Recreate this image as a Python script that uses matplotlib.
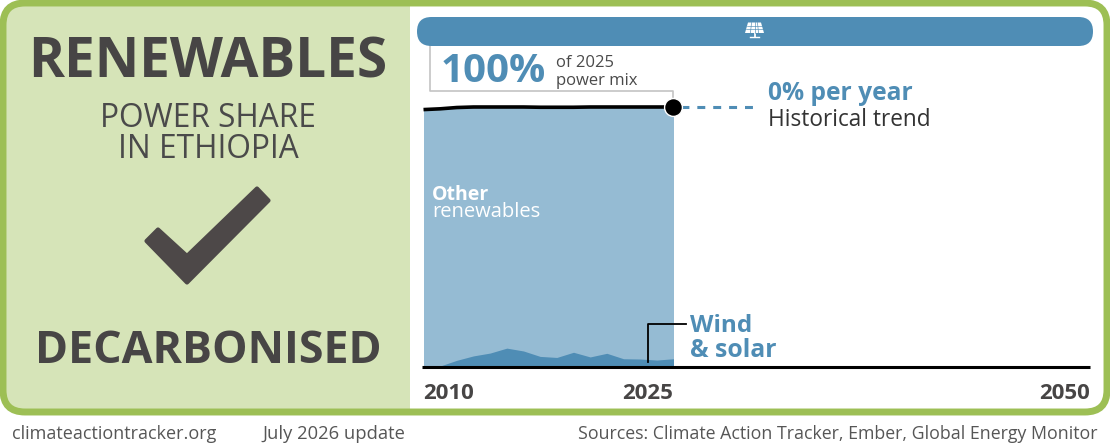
import matplotlib
matplotlib.use('Agg')
import matplotlib.pyplot as plt
from matplotlib.patches import FancyBboxPatch, Polygon, Rectangle

W, H = 1110, 444

# share of the power mix, percent
years = [2010, 2011, 2012, 2013, 2014, 2015, 2016, 2017, 2018, 2019, 2020, 2021, 2022, 2023, 2024, 2025]
total_share = [99.0, 99.3, 99.8, 100, 100, 100, 100, 99.9, 99.9, 99.9, 100, 100, 100, 100, 100, 100]
wind_solar = [0, 0, 2.2, 3.9, 5.0, 6.9, 5.8, 3.7, 3.3, 5.3, 3.5, 4.9, 2.8, 2.7, 2.3, 2.8]
trend_years = [2025, 2030]
trend_share = [100, 100]
year_ticks = [2010, 2025, 2050]

BLUE = '#4f8db5'
LIGHT_BLUE = '#95bbd3'
GREEN = '#9dbf55'
PALE = '#d6e4b8'
DARK = '#474545'
GREY_TXT = '#4a4a4a'
FOOT_TXT = '#565656'

plt.rcParams['font.family'] = ['Open Sans', 'DejaVu Sans']

fig = plt.figure(figsize=(W / 100, H / 100), dpi=100)
bg = fig.add_axes([0, 0, 1, 1])
bg.set_xlim(0, W)
bg.set_ylim(H, 0)
bg.axis('off')

# frame and left panel
frame = dict(boxstyle='round,pad=0,rounding_size=22')
bg.add_patch(FancyBboxPatch((3, 3), W - 6, 409, fc='white', ec='none', zorder=1, **frame))
clip = FancyBboxPatch((3, 3), W - 6, 409, fc='none', ec='none', **frame)
bg.add_patch(clip)
panel = Rectangle((0, 0), 410, 420, fc=PALE, ec='none', zorder=2)
bg.add_patch(panel)
panel.set_clip_path(clip)
bg.add_patch(FancyBboxPatch((3, 3), W - 6, 409, fc='none', ec=GREEN, lw=5, zorder=3, **frame))

bg.text(208, 63, 'RENEWABLES', ha='center', va='center', fontsize=39.5, fontweight='bold', color=DARK, zorder=5)
bg.text(208, 118, 'POWER SHARE', ha='center', va='center', fontsize=22.8, color=GREY_TXT, zorder=5)
bg.text(208, 149, 'IN ETHIOPIA', ha='center', va='center', fontsize=22.8, color=GREY_TXT, zorder=5)
bg.text(208, 351, 'DECARBONISED', ha='center', va='center', fontsize=32.2, fontweight='bold', color=DARK, zorder=5)

# check mark
bg.add_patch(Polygon([[257, 188.5], [268.5, 200.5], [187, 282.5], [146.5, 241], [158, 229.5], [187, 256]],
                     closed=True, fc='#4d4848', ec='#4d4848', lw=3, joinstyle='round', zorder=5))

# footer
bg.text(12, 434, 'climateactiontracker.org', ha='left', va='center', fontsize=13, color=FOOT_TXT)
bg.text(262, 434, 'July 2026 update', ha='left', va='center', fontsize=13.2, color=FOOT_TXT)
bg.text(1098, 434, 'Sources: Climate Action Tracker, Ember, Global Energy Monitor', ha='right', va='center',
        fontsize=12.75, color=FOOT_TXT)

# chart axes: 0 at y=366, 100 at y=107, 2010 at x=423.5, 2025 at x=673.5
x0, x25 = 423.5, 673.5
xmax = x25 + 25 * (x25 - x0) / 15
ax = fig.add_axes([x0 / W, 1 - 366 / H, (xmax - x0) / W, (366 - 107) / H])
ax.set_xlim(2010, 2050)
ax.set_ylim(0, 100)
ax.axis('off')
ax.patch.set_alpha(0)
ax.fill_between(years, 0, total_share, color=LIGHT_BLUE, lw=0, zorder=2)
ax.fill_between(years, 0, wind_solar, color=BLUE, lw=0, zorder=3)
ax.plot(years, total_share, color='black', lw=2.6, clip_on=False, zorder=5, solid_capstyle='butt')
ax.plot(trend_years, trend_share, color=BLUE, lw=2.2, ls=(2.6, (2.6, 2.6)), clip_on=False, zorder=4)
ax.scatter(trend_years[:1], trend_share[:1], s=165, color='black', edgecolor='white', lw=1, clip_on=False, zorder=6)

# everything drawn over the chart goes on a second pixel-space layer
top = fig.add_axes([0, 0, 1, 1])
top.set_xlim(0, W)
top.set_ylim(H, 0)
top.axis('off')
top.patch.set_alpha(0)

# header bar
top.add_patch(FancyBboxPatch((417, 17), 676, 29, boxstyle='round,pad=0,rounding_size=14.5',
                             fc=BLUE, ec='none', zorder=4))
# solar panel icon
top.add_patch(Polygon([[748, 22.5], [761, 22.5], [764, 33], [745, 33]], fc='white', ec='none', zorder=5))
for xa, xb in [(751.5, 750.5), (754.5, 754.5), (757.5, 758.5)]:
    top.plot([xa, xb], [22.5, 33], color=BLUE, lw=0.45, zorder=6)
for xa, xb, yy in [(747, 762, 26), (746, 763, 29.5)]:
    top.plot([xa, xb], [yy, yy], color=BLUE, lw=0.45, zorder=6)
top.plot([754.5, 754.5], [33, 37], color='white', lw=1.3, zorder=5)
top.plot([750, 759], [37, 37], color='white', lw=1, zorder=5)

# bracket above the line
top.plot([430, 430, 673, 673], [46, 91, 91, 97], color='#c4c4c4', lw=1.2, zorder=3)

# baseline
top.plot([422, 1090], [366.5, 366.5], color='black', lw=2.2, zorder=7, solid_capstyle='butt')

# wind and solar leader
top.plot([648, 648, 686], [362, 324, 324], color='black', lw=1.3, zorder=8)

for yr, ha, xp in zip(year_ticks, ['left', 'right', 'right'], [423, 673, 1090]):
    top.text(xp, 393, str(yr), ha=ha, va='center', fontsize=16, fontweight='bold', color=DARK, zorder=8)

# labels
top.text(441, 71, '100%', ha='left', va='center', fontsize=29, fontweight='bold', color=BLUE, zorder=8)
top.text(556, 63, 'of 2025', ha='left', va='center', fontsize=12, color=GREY_TXT, zorder=8)
top.text(556, 81, 'power mix', ha='left', va='center', fontsize=12, color=GREY_TXT, zorder=8)
top.text(768, 93, '0% per year', ha='left', va='center', fontsize=17.7, fontweight='bold', color=BLUE, zorder=8)
top.text(768, 120, 'Historical trend', ha='left', va='center', fontsize=16.3, color='#333333', zorder=8)
top.text(432, 195, 'Other', ha='left', va='center', fontsize=14, fontweight='bold', color='white', zorder=8)
top.text(432, 212, 'renewables', ha='left', va='center', fontsize=14.5, color='white', zorder=8)
top.text(690, 326, 'Wind', ha='left', va='center', fontsize=17.5, fontweight='bold', color=BLUE, zorder=8)
top.text(690, 350, '& solar', ha='left', va='center', fontsize=17.8, fontweight='bold', color=BLUE, zorder=8)

fig.savefig('out.png', dpi=100)
